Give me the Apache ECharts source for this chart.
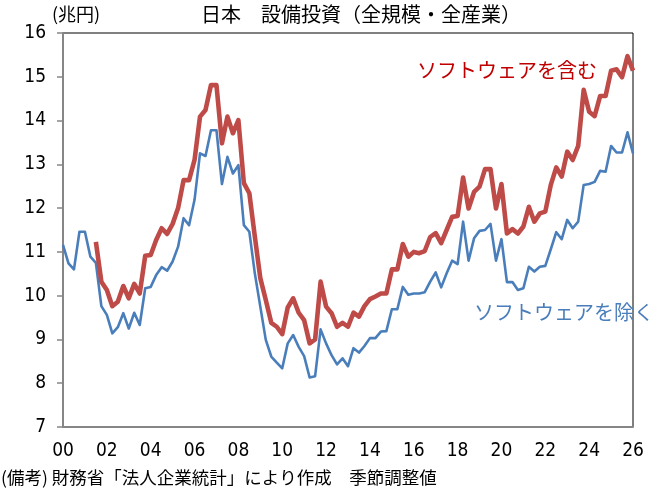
<!DOCTYPE html>
<html>
<head>
<meta charset="utf-8">
<script src="https://cdn.jsdelivr.net/npm/echarts@6/dist/echarts.min.js"></script>
<style>
html,body{margin:0;padding:0;background:#fff;}
#chart{width:660px;height:496px;}
</style>
</head>
<body>
<div id="chart"></div>
<script>
// Quarterly data, first quarter = 2000 Q1
const startYear = 2000;
const xTicks = ['00','02','04','06','08','10','12','14','16','18','20','22','24','26'];
const yTicks = [7, 8, 9, 10, 11, 12, 13, 14, 15, 16];

// ソフトウェアを除く (from 2000 Q1)
const exSoftware = [
  11.16, 10.74, 10.60, 11.46, 11.46, 10.89, 10.75, 9.76, 9.56, 9.14,
  9.28, 9.60, 9.25, 9.61, 9.33, 10.17, 10.20, 10.47, 10.65, 10.57,
  10.78, 11.12, 11.77, 11.61, 12.19, 13.25, 13.19, 13.78, 13.78, 12.55,
  13.17, 12.79, 12.98, 11.61, 11.46, 10.51, 9.75, 8.99, 8.61, 8.47,
  8.34, 8.91, 9.10, 8.83, 8.62, 8.13, 8.16, 9.23, 8.91, 8.64,
  8.43, 8.57, 8.39, 8.80, 8.70, 8.85, 9.03, 9.03, 9.18, 9.19,
  9.69, 9.69, 10.20, 10.02, 10.05, 10.05, 10.08, 10.32, 10.53, 10.19,
  10.51, 10.80, 10.72, 11.69, 10.80, 11.31, 11.48, 11.50, 11.64, 10.80,
  11.29, 10.31, 10.31, 10.13, 10.17, 10.66, 10.55, 10.66, 10.68, 11.06,
  11.45, 11.29, 11.73, 11.54, 11.69, 12.53, 12.55, 12.60, 12.85, 12.83,
  13.42, 13.27, 13.27, 13.73, 13.25
];

// ソフトウェアを含む (from 2001 Q3)
const inclStartOffset = 6;
const inclSoftware = [
  11.23, 10.32, 10.13, 9.76, 9.86, 10.22, 9.94, 10.27, 10.05, 10.91,
  10.93, 11.27, 11.54, 11.41, 11.64, 12.00, 12.64, 12.64, 13.10, 14.09,
  14.24, 14.81, 14.81, 13.48, 14.09, 13.71, 14.01, 12.57, 12.34, 11.35,
  10.40, 9.90, 9.38, 9.29, 9.12, 9.73, 9.94, 9.61, 9.44, 8.91,
  9.00, 10.32, 9.75, 9.60, 9.29, 9.38, 9.29, 9.61, 9.52, 9.76,
  9.92, 9.98, 10.05, 10.05, 10.60, 10.60, 11.18, 10.89, 11.00, 10.97,
  11.02, 11.34, 11.43, 11.20, 11.50, 11.80, 11.82, 12.70, 11.99, 12.37,
  12.49, 12.89, 12.89, 11.99, 12.55, 11.42, 11.52, 11.42, 11.58, 12.03,
  11.69, 11.88, 11.92, 12.53, 12.93, 12.72, 13.29, 13.10, 13.42, 14.70,
  14.20, 14.10, 14.56, 14.56, 15.14, 15.17, 14.99, 15.47, 15.14
];

const exData = exSoftware.map((v, i) => [startYear + i * 0.25, v]);
const inData = inclSoftware.map((v, i) => [startYear + (i + inclStartOffset) * 0.25, v]);

const JP = '"Noto Sans CJK JP", "Noto Sans", sans-serif';
const NUM = '"Liberation Sans Narrow", "DejaVu Sans Condensed", "Roboto", sans-serif';

const chart = echarts.init(document.getElementById('chart'), null, {renderer: 'canvas'});
chart.setOption({
  animation: false,
  backgroundColor: '#fff',
  grid: {
    left: 63, right: 27, top: 33, bottom: 69,
    show: true, borderColor: '#000', borderWidth: 1, backgroundColor: 'transparent'
  },
  xAxis: {
    type: 'value',
    min: 2000, max: 2026, interval: 2,
    axisLine: {show: true, onZero: false, lineStyle: {color: '#868686', width: 2}},
    axisTick: {show: false},
    splitLine: {show: false},
    axisLabel: {
      color: '#000', fontSize: 19, fontFamily: NUM, margin: 15,
      formatter: v => xTicks[Math.round((v - 2000) / 2)]
    }
  },
  yAxis: {
    type: 'value',
    min: yTicks[0], max: yTicks[yTicks.length - 1], interval: 1,
    axisLine: {show: true, lineStyle: {color: '#868686', width: 2}},
    axisTick: {show: true, inside: false, length: 6, lineStyle: {color: '#868686', width: 1.5}},
    splitLine: {show: false},
    axisLabel: {color: '#000', fontSize: 19, fontFamily: NUM, margin: 17}
  },
  series: [
    {
      type: 'line', data: exData, showSymbol: false, symbol: 'none',
      lineStyle: {color: '#4A7EBB', width: 2.6, join: 'round'}, z: 3
    },
    {
      type: 'line', data: inData, showSymbol: false, symbol: 'none',
      lineStyle: {color: '#BE4B48', width: 4.6, join: 'round'}, z: 4
    }
  ],
  graphic: [
    {type: 'text', left: 201, top: 4, style: {text: '日本　設備投資（全規模・全産業）', font: '20px ' + JP, fill: '#000'}},
    {type: 'text', left: 52, top: 5, style: {text: '(兆円)', font: '18px ' + JP, fill: '#000'}},
    {type: 'text', left: 417, top: 60, style: {text: 'ソフトウェアを含む', font: '20px ' + JP, fill: '#C00000'}},
    {type: 'text', left: 474, top: 302, style: {text: 'ソフトウェアを除く', font: '20px ' + JP, fill: '#4A7EBB'}},
    {type: 'text', left: 1, top: 469, style: {text: '(備考) 財務省「法人企業統計」により作成　季節調整値', font: '17.5px ' + JP, fill: '#000'}}
  ]
});
</script>
</body>
</html>
